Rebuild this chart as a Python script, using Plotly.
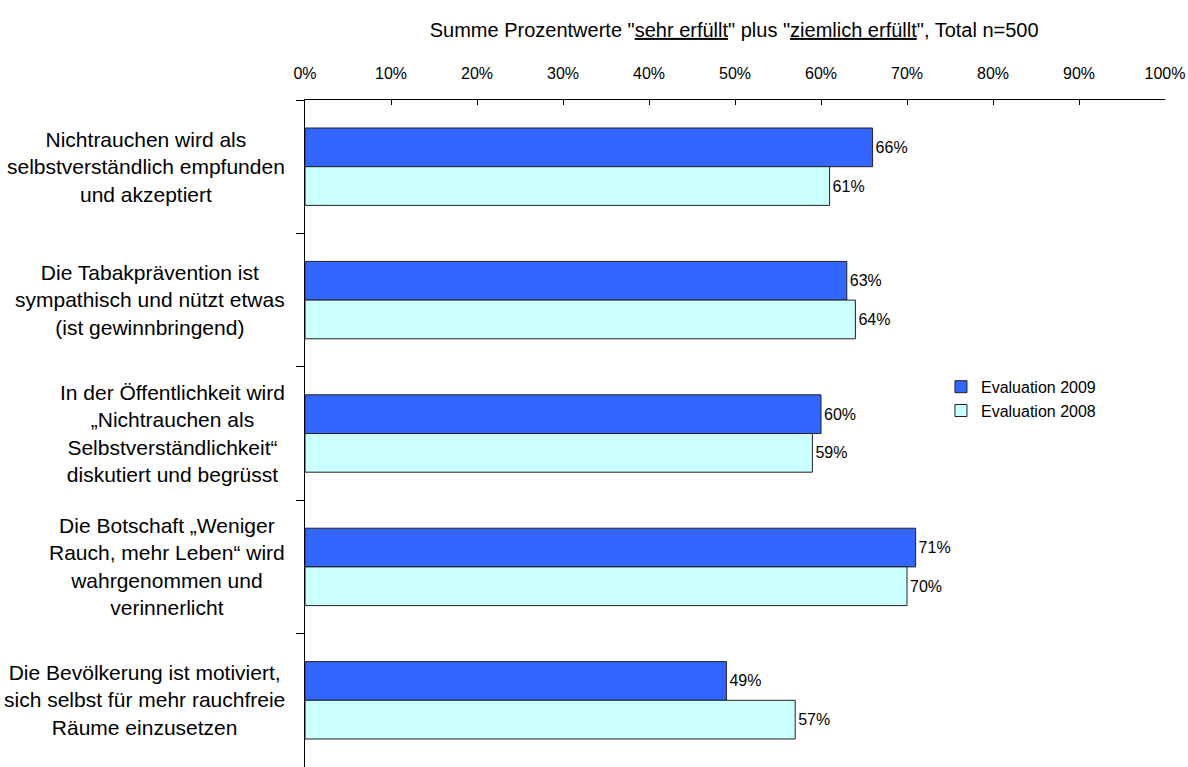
import plotly.graph_objects as go

categories = [
    "Nichtrauchen wird als<br>selbstverständlich empfunden<br>und akzeptiert",
    "Die Tabakprävention ist<br>sympathisch und nützt etwas<br>(ist gewinnbringend)",
    "In der Öffentlichkeit wird<br>„Nichtrauchen als<br>Selbstverständlichkeit“<br>diskutiert und begrüsst",
    "Die Botschaft „Weniger<br>Rauch, mehr Leben“ wird<br>wahrgenommen und<br>verinnerlicht",
    "Die Bevölkerung ist motiviert,<br>sich selbst für mehr rauchfreie<br>Räume einzusetzen",
]
cat_ids = ["c1", "c2", "c3", "c4", "c5"]
values_2009 = [66, 63, 60, 71, 49]
values_2008 = [61, 64, 59, 70, 57]
series_names = ["Evaluation 2009", "Evaluation 2008"]
x_ticks = list(range(0, 101, 10))
title_text = 'Summe Prozentwerte "<u>sehr erfüllt</u>" plus "<u>ziemlich erfüllt</u>", Total n=500'

FONT = "Liberation Sans, Arial, sans-serif"

fig = go.Figure()
for name, vals, color in [(series_names[0], values_2009, "#3366FF"),
                          (series_names[1], values_2008, "#CCFFFF")]:
    fig.add_trace(go.Bar(
        x=vals, y=cat_ids, orientation="h", name=name,
        marker=dict(color=color, line=dict(color="#222222", width=1)),
        text=[f"{v}%" for v in vals], textposition="outside",
        textfont=dict(size=16, color="black", family=FONT),
        cliponaxis=False,
    ))

annotations = []
for cid, label in zip(cat_ids, categories):
    annotations.append(dict(
        x=0, xref="paper", y=cid, yref="y", xshift=-18,
        xanchor="right", yanchor="middle", align="center",
        text=label, showarrow=False,
        font=dict(size=21, color="black", family=FONT),
    ))

fig.update_layout(
    width=1188, height=767,
    margin=dict(l=305, r=23, t=100, b=0),
    paper_bgcolor="white", plot_bgcolor="white",
    barmode="group", bargap=0.42, bargroupgap=0,
    font=dict(family=FONT, color="black"),
    title=dict(text=title_text, x=0.618, xref="container", xanchor="center",
               y=0.961, yref="container", yanchor="middle",
               font=dict(size=20, color="black", family=FONT)),
    legend=dict(x=0.7395, y=0.5955, xanchor="left", yanchor="top",
                font=dict(size=16, color="black", family=FONT),
                bgcolor="rgba(0,0,0,0)", tracegroupgap=0),
    annotations=annotations,
    xaxis=dict(side="top", range=[0, 100], tickvals=x_ticks,
               ticktext=[f"{t}%" for t in x_ticks],
               ticks="inside", ticklen=5, tickcolor="black",
               showline=True, linecolor="black", linewidth=1,
               showgrid=False, zeroline=False,
               ticklabelstandoff=14,
               tickfont=dict(size=16, color="black", family=FONT)),
    yaxis=dict(categoryorder="array", categoryarray=cat_ids,
               range=[4.5, -0.5], showticklabels=False,
               ticks="outside", tickson="boundaries", ticklen=8, tickcolor="black",
               showline=True, linecolor="black", linewidth=1,
               showgrid=False, zeroline=False),
)

fig.write_html("out.html")
